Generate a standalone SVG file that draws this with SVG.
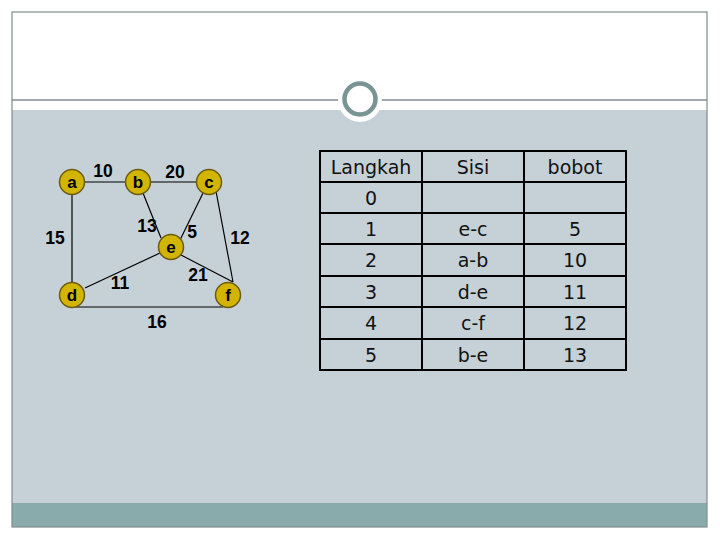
<svg xmlns="http://www.w3.org/2000/svg" width="720" height="540" viewBox="0 0 720 540">
<style>
.edge{stroke:#000;stroke-width:1.2;fill:none}
.node circle{fill:#d2b500;stroke:#6b5a10;stroke-width:1.5}
.node text{font-family:"Liberation Sans",Arial,sans-serif;font-weight:bold;font-size:17px;fill:#000;text-anchor:middle}
.w{font-family:"Liberation Sans",Arial,sans-serif;font-weight:bold;font-size:17.5px;fill:#000;text-anchor:middle}
.tl{stroke:#000;stroke-width:2;fill:none}
.tt{font-family:"DejaVu Sans",Verdana,sans-serif;font-size:19px;fill:#111;text-anchor:middle}
</style>
<rect x="0" y="0" width="720" height="540" fill="#ffffff"/>
<rect x="12" y="110" width="695" height="393" fill="#c6d1d7"/>
<rect x="12" y="503" width="695" height="24" fill="#8aabab"/>
<rect x="12" y="12" width="695" height="515" fill="none" stroke="#7f8c8c" stroke-width="1.2"/>
<line x1="12" y1="100" x2="707" y2="100" stroke="#7f8c8c" stroke-width="1.5"/>
<circle cx="360" cy="100" r="22" fill="#ffffff"/>
<circle cx="360" cy="99" r="15.5" fill="#ffffff" stroke="#7a9494" stroke-width="4.5"/>

<g id="connectors">
<line class="edge" x1="72" y1="182" x2="138" y2="182"/>
<line class="edge" x1="138" y1="182" x2="209" y2="182"/>
<line class="edge" x1="72" y1="182" x2="72" y2="295"/>
<line class="edge" x1="76" y1="307" x2="223" y2="307"/>
<line class="edge" x1="141" y1="188" x2="161" y2="238"/>
<line class="edge" x1="204" y1="191" x2="180" y2="240"/>
<line class="edge" x1="216" y1="191" x2="233" y2="282"/>
<line class="edge" x1="181" y1="255" x2="233" y2="282"/>
<line class="edge" x1="85" y1="288" x2="160" y2="253"/>
</g>

<g id="node-a" class="node"><circle cx="72" cy="182" r="12.5"/><text x="72" y="188">a</text></g>
<g id="node-b" class="node"><circle cx="138" cy="182" r="12.5"/><text x="138" y="188">b</text></g>
<g id="node-c" class="node"><circle cx="209" cy="182" r="12.5"/><text x="209" y="188">c</text></g>
<g id="node-e" class="node"><circle cx="171" cy="247" r="12.5"/><text x="171" y="253">e</text></g>
<g id="node-d" class="node"><circle cx="72" cy="295" r="12.5"/><text x="72" y="301">d</text></g>
<g id="node-f" class="node"><circle cx="228" cy="295" r="12.5"/><text x="228" y="301">f</text></g>

<g id="weights">
<text class="w" x="103" y="177">10</text>
<text class="w" x="175" y="178">20</text>
<text class="w" x="147" y="232">13</text>
<text class="w" x="192" y="238">5</text>
<text class="w" x="55" y="244">15</text>
<text class="w" x="240" y="244">12</text>
<text class="w" x="198" y="281">21</text>
<text class="w" x="120" y="289">11</text>
<text class="w" x="157" y="328">16</text>
</g>

<g id="table">
<rect class="tl" x="320" y="151" width="306" height="219"/>
<line class="tl" x1="422" y1="151" x2="422" y2="370"/>
<line class="tl" x1="524" y1="151" x2="524" y2="370"/>
<line class="tl" x1="320" y1="182" x2="626" y2="182"/>
<line class="tl" x1="320" y1="213" x2="626" y2="213"/>
<line class="tl" x1="320" y1="244" x2="626" y2="244"/>
<line class="tl" x1="320" y1="276" x2="626" y2="276"/>
<line class="tl" x1="320" y1="307" x2="626" y2="307"/>
<line class="tl" x1="320" y1="339" x2="626" y2="339"/>
<text class="tt" x="371" y="174">Langkah</text>
<text class="tt" x="473" y="174">Sisi</text>
<text class="tt" x="575" y="174">bobot</text>
<text class="tt" x="371" y="205">0</text>
<text class="tt" x="371" y="236">1</text>
<text class="tt" x="473" y="236">e-c</text>
<text class="tt" x="575" y="236">5</text>
<text class="tt" x="371" y="267">2</text>
<text class="tt" x="473" y="267">a-b</text>
<text class="tt" x="575" y="267">10</text>
<text class="tt" x="371" y="299">3</text>
<text class="tt" x="473" y="299">d-e</text>
<text class="tt" x="575" y="299">11</text>
<text class="tt" x="371" y="330">4</text>
<text class="tt" x="473" y="330">c-f</text>
<text class="tt" x="575" y="330">12</text>
<text class="tt" x="371" y="362">5</text>
<text class="tt" x="473" y="362">b-e</text>
<text class="tt" x="575" y="362">13</text>
</g>
</svg>
